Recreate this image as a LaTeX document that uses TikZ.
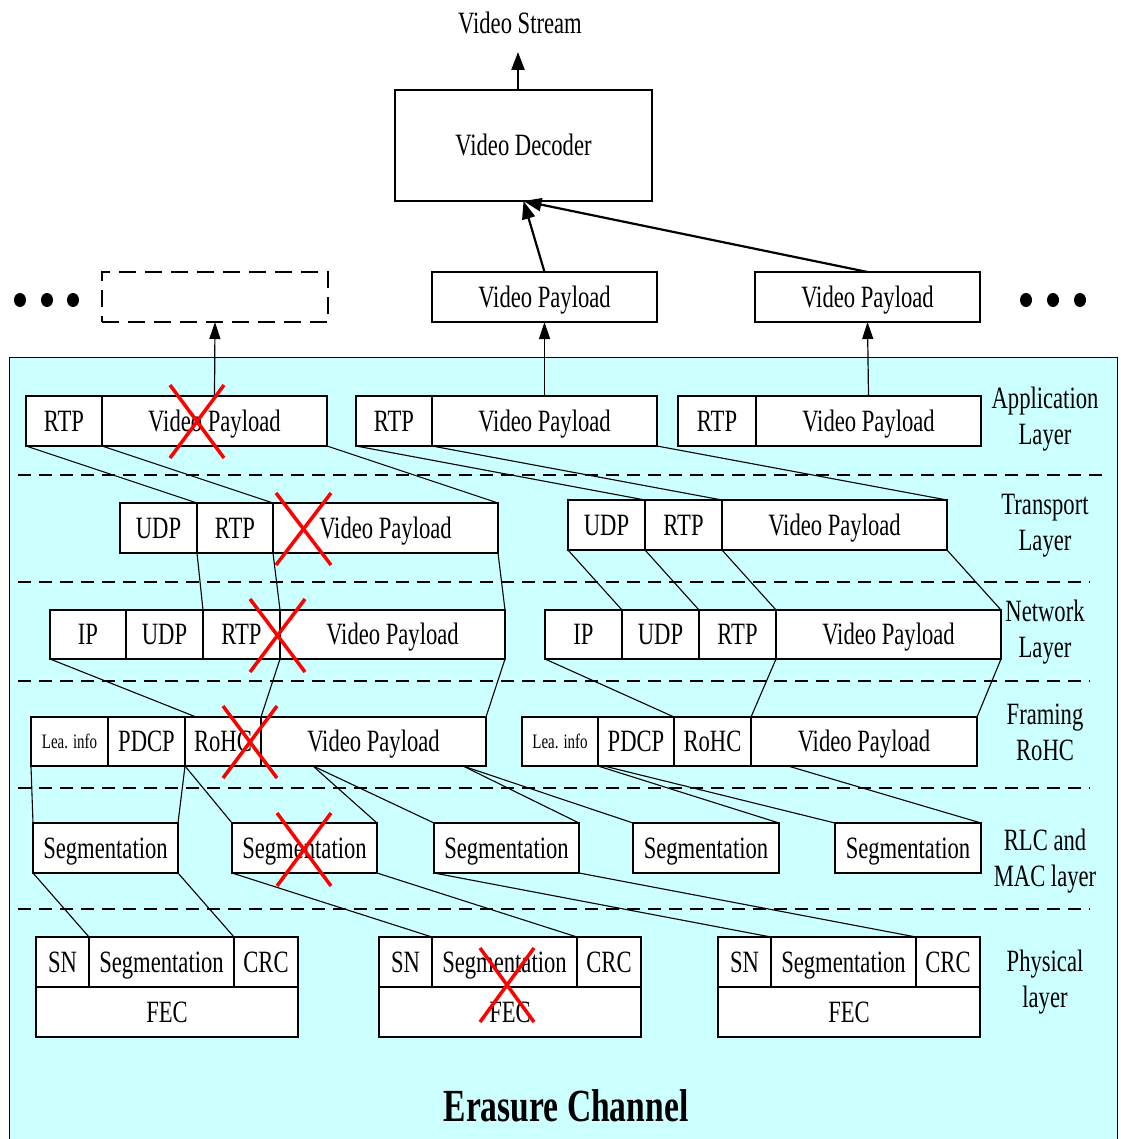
\documentclass[tikz,border=0pt]{standalone}
\usepackage{fontspec}
\setmainfont{Liberation Serif}[FakeStretch=0.73]
\usetikzlibrary{arrows.meta,calc}
\definecolor{chan}{RGB}{204,255,255}
\definecolor{erase}{RGB}{255,0,0}

\tikzset{
  cellbox/.style={draw, line width=1.8pt, fill=white, inner sep=0pt, outer sep=0pt,
                  font=\fontsize{31}{36}\selectfont, text height=20.5pt, text depth=0pt},
  small/.style={font=\fontsize{20.5}{24}\selectfont, text height=13.6pt},
  link/.style={line width=1.1pt},
  sep/.style={line width=1.5pt, dash pattern=on 13pt off 8pt},
  uparrow/.style={line width=1.2pt, -{Triangle[length=17pt,width=11pt]}},
  feed/.style={line width=2.2pt, -{Triangle[length=18pt,width=13pt]}},
  cross/.style={erase, line width=3.5pt},
  layer/.style={align=center, font=\fontsize{31}{36}\selectfont, inner sep=0pt},
}

% \cell[options]{name}{x left}{x right}{y top}{y bottom}{text}
\newcommand\cell[7][]{\node[cellbox, minimum width={(#4-#3)*1pt},
  minimum height={(#6-#5)*1pt}, #1] (#2) at ({(#3+#4)/2},{(#5+#6)/2}) {#7};}
% red cross over a lost packet
\newcommand\erasemark[4]{\draw[cross] (#1,#3) -- (#2,#4); \draw[cross] (#2,#3) -- (#1,#4);}

\begin{document}
\begin{tikzpicture}[x=1pt,y=-1pt]
\useasboundingbox (0,0) rectangle (1120,1139);

% ---------- receiver side ----------
\node[layer] (stream) at (520,23) {Video Stream};
\coordinate (streamin) at (518,52);
\cell{dec}{395}{652}{90}{201}{Video Decoder}
\cell{vpa}{432}{657}{272}{322}{Video Payload}
\cell{vpb}{755}{980}{272}{322}{Video Payload}
\node[draw, line width=2pt, dash pattern=on 17pt off 9pt, minimum width=226pt,
      minimum height=50pt, inner sep=0pt, outer sep=0pt] (ghost) at (215,297) {};
\foreach \x in {20,47,73,1026,1053,1080}
  \fill (\x,300) ellipse [x radius=6pt, y radius=7pt];

\draw[feed] (dec.north -| streamin) -- (streamin);
\draw[feed] (vpa.north) -- (dec.south);
\draw[feed] (vpb.north) -- (dec.south);

% ---------- erasure channel ----------
\draw[fill=chan, line width=0.8pt] (9,357) rectangle (1117,1150);

\draw[sep] (18,475) -- (1108,475);
\foreach \y in {582,681,788,909}
  \draw[sep] (18,\y) -- (1090,\y);

% layer names
\node[layer] (lapp)  at (1045,419) {Application\\Layer};
\node[layer] (ltra)  at (1045,526) {Transport\\Layer};
\node[layer] (lnet)  at (1045,632) {Network\\Layer};
\node[layer] (lfra)  at (1045,732) {Framing\\RoHC};
\node[layer] (lrlc)  at (1045,861) {RLC and\\MAC layer};
\node[layer] (lphy)  at (1045,982) {Physical\\layer};
\node[font=\bfseries\fontsize{46}{50}\selectfont, inner sep=0pt] (chname) at (566,1106) {Erasure Channel};

% application layer
\cell{p1rtp}{26}{102}{396}{446}{RTP}
\cell{p1vp}{102}{327}{396}{446}{Video Payload}
\cell{p2rtp}{356}{432}{396}{446}{RTP}
\cell{p2vp}{432}{657}{396}{446}{Video Payload}
\cell{p3rtp}{678}{756}{396}{446}{RTP}
\cell{p3vp}{756}{981}{396}{446}{Video Payload}

% transport layer
\cell{t1udp}{120}{197}{503}{553}{UDP}
\cell{t1rtp}{197}{273}{503}{553}{RTP}
\cell{t1vp}{273}{498}{503}{553}{Video Payload}
\cell{t2udp}{568}{645}{500}{550}{UDP}
\cell{t2rtp}{645}{722}{500}{550}{RTP}
\cell{t2vp}{722}{947}{500}{550}{Video Payload}

% network layer
\cell{n1ip}{50}{126}{610}{659}{IP}
\cell{n1udp}{126}{203}{610}{659}{UDP}
\cell{n1rtp}{203}{280}{610}{659}{RTP}
\cell{n1vp}{280}{505}{610}{659}{Video Payload}
\cell{n2ip}{545}{622}{610}{659}{IP}
\cell{n2udp}{622}{699}{610}{659}{UDP}
\cell{n2rtp}{699}{776}{610}{659}{RTP}
\cell{n2vp}{776}{1001}{610}{659}{Video Payload}

% framing / RoHC
\cell[small]{f1lea}{31}{108}{717}{766}{Lea. info}
\cell{f1pdcp}{108}{185}{717}{766}{PDCP}
\cell{f1rohc}{185}{261}{717}{766}{RoHC}
\cell{f1vp}{261}{486}{717}{766}{Video Payload}
\cell[small]{f2lea}{522}{598}{717}{766}{Lea. info}
\cell{f2pdcp}{598}{674}{717}{766}{PDCP}
\cell{f2rohc}{674}{751}{717}{766}{RoHC}
\cell{f2vp}{751}{977}{717}{766}{Video Payload}

% RLC and MAC
\cell{s1}{33}{178}{823}{873}{Segmentation}
\cell{s2}{232}{377}{823}{873}{Segmentation}
\cell{s3}{434}{579}{823}{873}{Segmentation}
\cell{s4}{633}{779}{823}{873}{Segmentation}
\cell{s5}{835}{981}{823}{873}{Segmentation}

% physical layer
\cell{ph1sn}{36}{89}{937}{987}{SN}
\cell{ph1seg}{89}{234}{937}{987}{Segmentation}
\cell{ph1crc}{234}{298}{937}{987}{CRC}
\cell{ph1fec}{36}{298}{987}{1037}{FEC}
\cell{ph2sn}{379}{432}{937}{987}{SN}
\cell{ph2seg}{432}{577}{937}{987}{Segmentation}
\cell{ph2crc}{577}{641}{937}{987}{CRC}
\cell{ph2fec}{379}{641}{987}{1037}{FEC}
\cell{ph3sn}{718}{771}{937}{987}{SN}
\cell{ph3seg}{771}{916}{937}{987}{Segmentation}
\cell{ph3crc}{916}{980}{937}{987}{CRC}
\cell{ph3fec}{718}{980}{987}{1037}{FEC}

% payloads handed up
\draw[uparrow] (p1vp.north) -- (ghost.south);
\draw[uparrow] (p2vp.north) -- (vpa.south);
\draw[uparrow] (p3vp.north) -- (vpb.south);

% application -> transport
\draw[link] (p1rtp.south west) -- (t1rtp.north west);
\draw[link] (p1rtp.south east) -- (t1vp.north west);
\draw[link] (p1vp.south east)  -- (t1vp.north east);
\draw[link] (p2rtp.south west) -- (t2rtp.north west);
\draw[link] (p2rtp.south east) -- (t2vp.north west);
\draw[link] (p2vp.south east)  -- (t2vp.north east);

% transport -> network
\draw[link] (t1udp.south east) -- (n1rtp.north west);
\draw[link] (t1rtp.south east) -- (n1vp.north west);
\draw[link] (t1vp.south east)  -- (n1vp.north east);
\draw[link] (t2udp.south west) -- (n2udp.north west);
\draw[link] (t2udp.south east) -- (n2rtp.north west);
\draw[link] (t2rtp.south east) -- (n2vp.north west);
\draw[link] (t2vp.south east)  -- (n2vp.north east);

% network -> framing
\coordinate (f1hdr) at ($(f1rohc.north west)+(11,0)$);
\draw[link] (n1ip.south west)  -- (f1hdr);
\draw[link] (n1rtp.south east) -- (f1vp.north west);
\draw[link] (n1vp.south east)  -- (f1vp.north east);
\draw[link] (n2ip.south west)  -- (f2rohc.north west);
\draw[link] (n2rtp.south east) -- (f2vp.north west);
\draw[link] (n2vp.south east)  -- (f2vp.north east);

% framing -> segmentation
\coordinate (cutA) at ($(f1vp.south west)+(52,0)$);
\coordinate (cutB) at ($(f1vp.south west)+(202,0)$);
\coordinate (cutC) at ($(f2pdcp.south west)+(6,0)$);
\coordinate (cutD) at ($(f2vp.south west)+(37,0)$);
\draw[link] (f1lea.south west)   -- (s1.north west);
\draw[link] (f1pdcp.south east)  -- (s1.north east);
\draw[link] (f1pdcp.south east)  -- (s2.north west);
\draw[link] (cutA) -- (s2.north east);
\draw[link] (cutA) -- (s3.north west);
\draw[link] (cutB) -- (s3.north east);
\draw[link] (cutB) -- (s4.north west);
\draw[link] (f2pdcp.south west) -- (s4.north east);
\draw[link] (cutC) -- (s5.north west);
\draw[link] (cutD) -- (s5.north east);

% segmentation -> physical
\draw[link] (s1.south west) -- (ph1seg.north west);
\draw[link] (s1.south east) -- (ph1crc.north west);
\draw[link] (s2.south west) -- (ph2seg.north west);
\draw[link] (s2.south east) -- (ph2crc.north west);
\draw[link] (s3.south west) -- (ph3seg.north west);
\draw[link] (s3.south east) -- (ph3crc.north west);

% lost packets
\erasemark{170}{224}{385}{458}
\erasemark{276}{331}{493}{565}
\erasemark{250}{305}{599}{672}
\erasemark{223}{277}{706}{778}
\erasemark{277}{331}{813}{886}
\erasemark{480}{534}{948}{1022}
\end{tikzpicture}
\end{document}
